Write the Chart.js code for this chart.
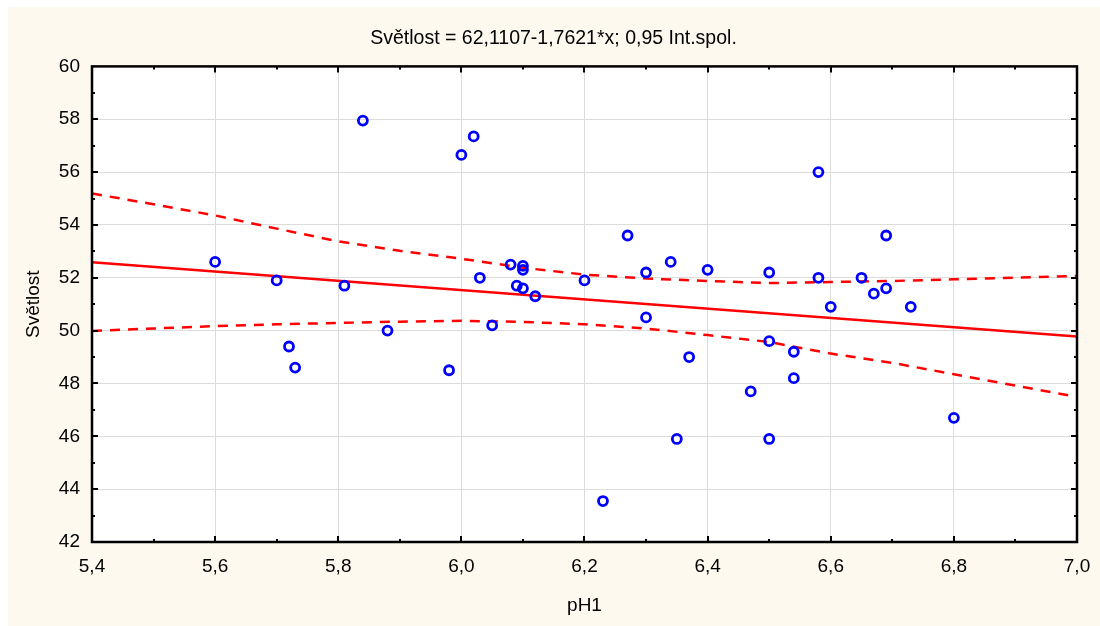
<!DOCTYPE html>
<html>
<head>
<meta charset="utf-8">
<script src="https://cdn.jsdelivr.net/npm/chart.js@4.4.1/dist/chart.umd.min.js"></script>
<style>
  html, body { margin: 0; padding: 0; background: #fff; }
  #wrap { width: 1100px; height: 626px; position: relative; }
</style>
</head>
<body>
<div id="wrap"><canvas id="regChart" width="1100" height="626"></canvas></div>
<script>
// pH1 vs Světlost (measured points)
const phValues = [5.60, 5.70, 5.72, 5.73, 5.81, 5.84, 5.88, 5.98, 6.00, 6.02, 6.03, 6.05, 6.08, 6.09, 6.10, 6.10, 6.10, 6.12,
  6.20, 6.23, 6.27, 6.30, 6.30, 6.34, 6.35, 6.37, 6.40, 6.47, 6.50, 6.50, 6.50, 6.54, 6.54, 6.58, 6.58, 6.60, 6.65, 6.67,
  6.69, 6.69, 6.73, 6.80];
const svetlostValues = [52.6, 51.9, 49.4, 48.6, 51.7, 57.95, 50.0, 48.5, 56.65, 57.35, 52.0, 50.2, 52.5, 51.7, 52.45, 52.3, 51.6, 51.3,
  51.9, 43.55, 53.6, 52.2, 50.5, 52.6, 45.9, 49.0, 52.3, 47.7, 52.2, 49.6, 45.9, 49.2, 48.2, 56.0, 52.0, 50.9, 52.0, 51.4,
  53.6, 51.6, 50.9, 46.7];

// regression line ends
const fitX = [5.4, 7.0];
const fitY = [52.59, 49.78];

// 0,95 confidence band, read every 0.1 of pH
const bandX = [5.4, 5.5, 5.6, 5.7, 5.8, 5.9, 6.0, 6.1, 6.2, 6.3, 6.4, 6.5, 6.6, 6.7, 6.8, 6.9, 7.0];
const bandUpper = [55.19, 54.78, 54.36, 53.86, 53.38, 53.02, 52.72, 52.38, 52.12, 51.97, 51.88, 51.80, 51.84, 51.88, 51.94, 52.00, 52.07];
const bandLower = [49.99, 50.08, 50.17, 50.24, 50.29, 50.34, 50.37, 50.33, 50.24, 50.08, 49.83, 49.57, 49.13, 48.78, 48.35, 47.92, 47.49];

const FONT = '"Liberation Sans", Arial, sans-serif';
const toPts = (xs, ys) => xs.map((x, i) => ({ x: x, y: ys[i] }));
const commaFmt = (v) => v.toFixed(1).replace('.', ',');

// cream background with white margin at top/left
const bgPlugin = {
  id: 'bg',
  beforeDraw(chart) {
    const c = chart.ctx;
    const area = chart.chartArea;
    c.save();
    c.fillStyle = '#fdf9ef';
    c.fillRect(8, 7, chart.width - 8, chart.height - 7);
    c.fillStyle = '#ffffff';
    c.fillRect(area.left, area.top, area.right - area.left, area.bottom - area.top);
    c.restore();
  }
};

// black frame with inward ticks on all four sides
const framePlugin = {
  id: 'frame',
  afterDraw(chart) {
    const c = chart.ctx;
    const a = chart.chartArea;
    const xs = chart.scales.x, ys = chart.scales.y;
    c.save();
    c.strokeStyle = '#000';
    c.lineWidth = 2;
    for (let v = 5.5; v < 7.0; v += 0.1) {
      const px = Math.round(xs.getPixelForValue(v));
      const major = Math.abs(Math.round(v * 10) % 2) === 0;
      const len = major ? 6 : 3;
      c.beginPath();
      c.moveTo(px, a.bottom); c.lineTo(px, a.bottom - len);
      c.moveTo(px, a.top); c.lineTo(px, a.top + len);
      c.stroke();
    }
    for (let v = 43; v < 60; v += 1) {
      const py = Math.round(ys.getPixelForValue(v));
      const len = v % 2 === 0 ? 6 : 3;
      c.beginPath();
      c.moveTo(a.left, py); c.lineTo(a.left + len, py);
      c.moveTo(a.right, py); c.lineTo(a.right - len, py);
      c.stroke();
    }
    c.lineWidth = 2.5;
    c.strokeRect(a.left, a.top, a.right - a.left, a.bottom - a.top);
    c.restore();
  }
};

new Chart(document.getElementById('regChart').getContext('2d'), {
  type: 'scatter',
  data: {
    datasets: [
      {
        label: 'Světlost',
        data: toPts(phValues, svetlostValues),
        showLine: false,
        pointStyle: 'circle',
        pointRadius: 4.5,
        pointBorderWidth: 2.8,
        pointBorderColor: '#0000ff',
        pointBackgroundColor: 'rgba(0,0,0,0)',
        order: 0
      },
      {
        label: 'fit',
        data: toPts(fitX, fitY),
        showLine: true,
        borderColor: '#ff0000',
        borderWidth: 2.5,
        pointRadius: 0,
        order: 1
      },
      {
        label: 'upper',
        data: toPts(bandX, bandUpper),
        showLine: true,
        borderColor: '#ff0000',
        borderWidth: 2.5,
        borderDash: [10, 8],
        pointRadius: 0,
        order: 2
      },
      {
        label: 'lower',
        data: toPts(bandX, bandLower),
        showLine: true,
        borderColor: '#ff0000',
        borderWidth: 2.5,
        borderDash: [10, 8],
        pointRadius: 0,
        order: 2
      }
    ]
  },
  options: {
    responsive: false,
    animation: false,
    layout: { padding: { left: 30, right: 23, top: 0, bottom: 0 } },
    plugins: {
      legend: { display: false },
      tooltip: { enabled: false },
      title: {
        display: true,
        text: 'Světlost = 62,1107-1,7621*x; 0,95 Int.spol.',
        color: '#000',
        font: { family: FONT, size: 19.5, weight: 'normal' },
        padding: { top: 27, bottom: 16 }
      }
    },
    scales: {
      x: {
        type: 'linear',
        min: 5.4,
        max: 7.0,
        afterFit: (s) => { s.height = 84; s.paddingLeft = 0; s.paddingRight = 0; },
        ticks: {
          stepSize: 0.2,
          color: '#000',
          padding: 13,
          maxRotation: 0,
          font: { family: FONT, size: 19 },
          callback: (v) => commaFmt(v)
        },
        grid: { color: '#dcdcdc', lineWidth: 1, drawTicks: false },
        border: { display: false },
        title: {
          display: true,
          text: 'pH1',
          color: '#000',
          font: { family: FONT, size: 19 },
          padding: { top: 0, bottom: 9 }
        }
      },
      y: {
        type: 'linear',
        min: 42,
        max: 60,
        afterFit: (s) => { s.width = 62; s.paddingTop = 0; s.paddingBottom = 0; },
        ticks: {
          stepSize: 2,
          color: '#000',
          padding: 12,
          font: { family: FONT, size: 19 },
          callback: (v) => String(v)
        },
        grid: { color: '#dcdcdc', lineWidth: 1, drawTicks: false },
        border: { display: false },
        title: {
          display: true,
          text: 'Světlost',
          color: '#000',
          font: { family: FONT, size: 19 },
          padding: { top: -8, bottom: 0 }
        }
      }
    }
  },
  plugins: [bgPlugin, framePlugin]
});
</script>
</body>
</html>
